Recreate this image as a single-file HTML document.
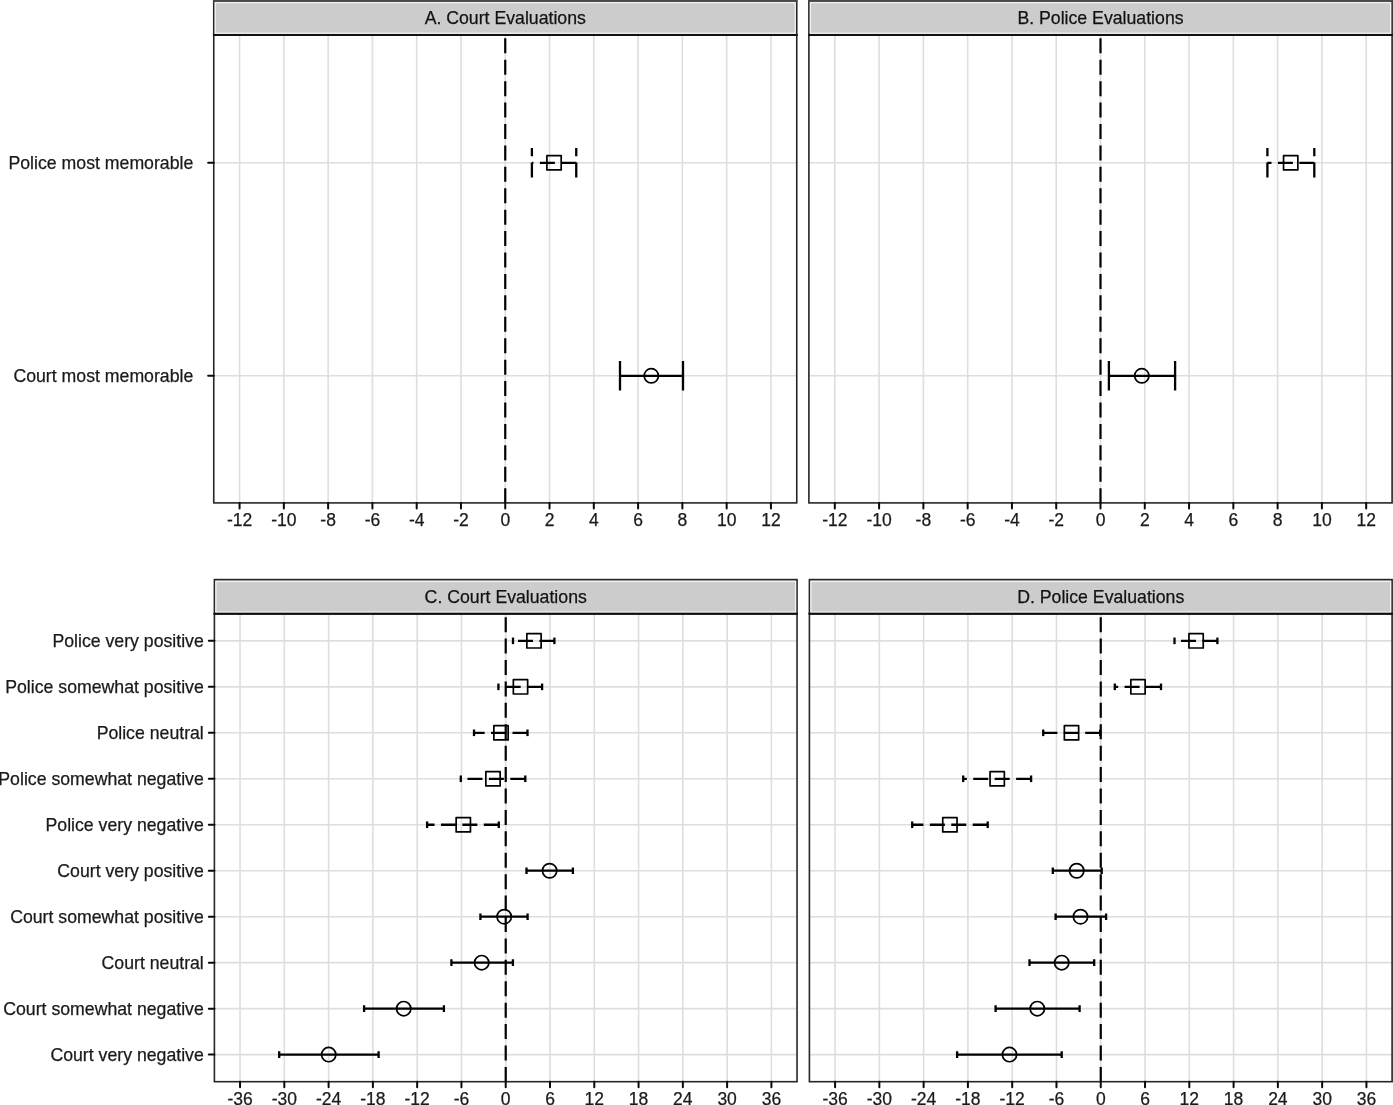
<!DOCTYPE html><html><head><meta charset="utf-8"><title>Figure</title><style>html,body{margin:0;padding:0;background:#fff;}svg{display:block;will-change:transform;}text{font-family:"Liberation Sans", sans-serif;font-size:17.5px;fill:#1a1a1a;stroke:#1a1a1a;stroke-width:0.25px;}</style></head><body>
<svg width="1393" height="1105" viewBox="0 0 1393 1105">
<rect x="0" y="0" width="1393" height="1105" fill="#fff"/>
<g stroke="#DEDEDE" stroke-width="1.6" fill="none">
<line x1="239.57" y1="34.9" x2="239.57" y2="502.9"/>
<line x1="283.85" y1="34.9" x2="283.85" y2="502.9"/>
<line x1="328.13" y1="34.9" x2="328.13" y2="502.9"/>
<line x1="372.41" y1="34.9" x2="372.41" y2="502.9"/>
<line x1="416.69" y1="34.9" x2="416.69" y2="502.9"/>
<line x1="460.97" y1="34.9" x2="460.97" y2="502.9"/>
<line x1="505.25" y1="34.9" x2="505.25" y2="502.9"/>
<line x1="549.53" y1="34.9" x2="549.53" y2="502.9"/>
<line x1="593.81" y1="34.9" x2="593.81" y2="502.9"/>
<line x1="638.09" y1="34.9" x2="638.09" y2="502.9"/>
<line x1="682.37" y1="34.9" x2="682.37" y2="502.9"/>
<line x1="726.65" y1="34.9" x2="726.65" y2="502.9"/>
<line x1="770.93" y1="34.9" x2="770.93" y2="502.9"/>
<line x1="213.75" y1="162.8" x2="796.75" y2="162.8"/>
<line x1="213.75" y1="375.8" x2="796.75" y2="375.8"/>
</g>
<path d="M505.25 503.15V35.7" stroke="#000" stroke-width="2.2" stroke-dasharray="15 6.42" fill="none"/>
<path d="M576.25 177.6V148" stroke="#000" stroke-width="2.3" fill="none" stroke-dasharray="15 6.42"/>
<path d="M576.25 162.8H531.9" stroke="#000" stroke-width="2.3" fill="none" stroke-dasharray="15 6.42"/>
<path d="M531.9 177.6V148" stroke="#000" stroke-width="2.3" fill="none" stroke-dasharray="15 6.42"/>
<rect x="546.9" y="155.65" width="14.3" height="14.3" fill="none" stroke="#000" stroke-width="1.7" stroke-linejoin="round"/>
<path d="M683 390.6V361M683 375.8H620M620 390.6V361" stroke="#000" stroke-width="2.3" fill="none"/>
<circle cx="651.3" cy="375.8" r="7.15" fill="none" stroke="#000" stroke-width="1.7"/>
<rect x="213.75" y="34.9" width="583" height="468" fill="none" stroke="#262626" stroke-width="1.6"/>
<rect x="213.75" y="0.8" width="583" height="34.1" fill="#CCCCCC" stroke="#262626" stroke-width="1.6"/>
<rect x="215.25" y="2.7" width="580" height="30.5" fill="none" stroke="#F2F2F2" stroke-width="1.2"/>
<line x1="212.95" y1="34.9" x2="797.55" y2="34.9" stroke="#111" stroke-width="2"/>
<line x1="212.95" y1="0.85" x2="797.55" y2="0.85" stroke="#484848" stroke-width="1.7"/>
<text x="505.25" y="24.4" text-anchor="middle" style="font-size:17.7px;fill:#111">A. Court Evaluations</text>
<g stroke="#0a0a0a" stroke-width="2.0" stroke-linecap="round">
<line x1="239.57" y1="502.9" x2="239.57" y2="508.5"/>
<line x1="283.85" y1="502.9" x2="283.85" y2="508.5"/>
<line x1="328.13" y1="502.9" x2="328.13" y2="508.5"/>
<line x1="372.41" y1="502.9" x2="372.41" y2="508.5"/>
<line x1="416.69" y1="502.9" x2="416.69" y2="508.5"/>
<line x1="460.97" y1="502.9" x2="460.97" y2="508.5"/>
<line x1="505.25" y1="502.9" x2="505.25" y2="508.5"/>
<line x1="549.53" y1="502.9" x2="549.53" y2="508.5"/>
<line x1="593.81" y1="502.9" x2="593.81" y2="508.5"/>
<line x1="638.09" y1="502.9" x2="638.09" y2="508.5"/>
<line x1="682.37" y1="502.9" x2="682.37" y2="508.5"/>
<line x1="726.65" y1="502.9" x2="726.65" y2="508.5"/>
<line x1="770.93" y1="502.9" x2="770.93" y2="508.5"/>
</g>
<text x="239.57" y="526.4" text-anchor="middle">-12</text>
<text x="283.85" y="526.4" text-anchor="middle">-10</text>
<text x="328.13" y="526.4" text-anchor="middle">-8</text>
<text x="372.41" y="526.4" text-anchor="middle">-6</text>
<text x="416.69" y="526.4" text-anchor="middle">-4</text>
<text x="460.97" y="526.4" text-anchor="middle">-2</text>
<text x="505.25" y="526.4" text-anchor="middle">0</text>
<text x="549.53" y="526.4" text-anchor="middle">2</text>
<text x="593.81" y="526.4" text-anchor="middle">4</text>
<text x="638.09" y="526.4" text-anchor="middle">6</text>
<text x="682.37" y="526.4" text-anchor="middle">8</text>
<text x="726.65" y="526.4" text-anchor="middle">10</text>
<text x="770.93" y="526.4" text-anchor="middle">12</text>
<g stroke="#0a0a0a" stroke-width="2.0" stroke-linecap="round">
<line x1="208.15" y1="162.8" x2="213.75" y2="162.8"/>
<line x1="208.15" y1="375.8" x2="213.75" y2="375.8"/>
</g>
<text x="193.3" y="169.4" text-anchor="end" style="font-size:17.7px">Police most memorable</text>
<text x="193.3" y="382.4" text-anchor="end" style="font-size:17.7px">Court most memorable</text>
<g stroke="#DEDEDE" stroke-width="1.6" fill="none">
<line x1="834.82" y1="34.9" x2="834.82" y2="502.9"/>
<line x1="879.1" y1="34.9" x2="879.1" y2="502.9"/>
<line x1="923.38" y1="34.9" x2="923.38" y2="502.9"/>
<line x1="967.66" y1="34.9" x2="967.66" y2="502.9"/>
<line x1="1011.94" y1="34.9" x2="1011.94" y2="502.9"/>
<line x1="1056.22" y1="34.9" x2="1056.22" y2="502.9"/>
<line x1="1100.5" y1="34.9" x2="1100.5" y2="502.9"/>
<line x1="1144.78" y1="34.9" x2="1144.78" y2="502.9"/>
<line x1="1189.06" y1="34.9" x2="1189.06" y2="502.9"/>
<line x1="1233.34" y1="34.9" x2="1233.34" y2="502.9"/>
<line x1="1277.62" y1="34.9" x2="1277.62" y2="502.9"/>
<line x1="1321.9" y1="34.9" x2="1321.9" y2="502.9"/>
<line x1="1366.18" y1="34.9" x2="1366.18" y2="502.9"/>
<line x1="808.9" y1="162.8" x2="1392.1" y2="162.8"/>
<line x1="808.9" y1="375.8" x2="1392.1" y2="375.8"/>
</g>
<path d="M1100.5 503.15V35.7" stroke="#000" stroke-width="2.2" stroke-dasharray="15 6.42" fill="none"/>
<path d="M1314.3 177.6V148" stroke="#000" stroke-width="2.3" fill="none" stroke-dasharray="15 6.42"/>
<path d="M1314.3 162.8H1267.4" stroke="#000" stroke-width="2.3" fill="none" stroke-dasharray="15 6.42"/>
<path d="M1267.4 177.6V148" stroke="#000" stroke-width="2.3" fill="none" stroke-dasharray="15 6.42"/>
<rect x="1283.55" y="155.65" width="14.3" height="14.3" fill="none" stroke="#000" stroke-width="1.7" stroke-linejoin="round"/>
<path d="M1175.1 390.6V361M1175.1 375.8H1108.9M1108.9 390.6V361" stroke="#000" stroke-width="2.3" fill="none"/>
<circle cx="1141.8" cy="375.8" r="7.15" fill="none" stroke="#000" stroke-width="1.7"/>
<rect x="808.9" y="34.9" width="583.2" height="468" fill="none" stroke="#262626" stroke-width="1.6"/>
<rect x="808.9" y="0.8" width="583.2" height="34.1" fill="#CCCCCC" stroke="#262626" stroke-width="1.6"/>
<rect x="810.4" y="2.7" width="580.2" height="30.5" fill="none" stroke="#F2F2F2" stroke-width="1.2"/>
<line x1="808.1" y1="34.9" x2="1392.9" y2="34.9" stroke="#111" stroke-width="2"/>
<line x1="808.1" y1="0.85" x2="1392.9" y2="0.85" stroke="#484848" stroke-width="1.7"/>
<text x="1100.5" y="24.4" text-anchor="middle" style="font-size:17.7px;fill:#111">B. Police Evaluations</text>
<g stroke="#0a0a0a" stroke-width="2.0" stroke-linecap="round">
<line x1="834.82" y1="502.9" x2="834.82" y2="508.5"/>
<line x1="879.1" y1="502.9" x2="879.1" y2="508.5"/>
<line x1="923.38" y1="502.9" x2="923.38" y2="508.5"/>
<line x1="967.66" y1="502.9" x2="967.66" y2="508.5"/>
<line x1="1011.94" y1="502.9" x2="1011.94" y2="508.5"/>
<line x1="1056.22" y1="502.9" x2="1056.22" y2="508.5"/>
<line x1="1100.5" y1="502.9" x2="1100.5" y2="508.5"/>
<line x1="1144.78" y1="502.9" x2="1144.78" y2="508.5"/>
<line x1="1189.06" y1="502.9" x2="1189.06" y2="508.5"/>
<line x1="1233.34" y1="502.9" x2="1233.34" y2="508.5"/>
<line x1="1277.62" y1="502.9" x2="1277.62" y2="508.5"/>
<line x1="1321.9" y1="502.9" x2="1321.9" y2="508.5"/>
<line x1="1366.18" y1="502.9" x2="1366.18" y2="508.5"/>
</g>
<text x="834.82" y="526.4" text-anchor="middle">-12</text>
<text x="879.1" y="526.4" text-anchor="middle">-10</text>
<text x="923.38" y="526.4" text-anchor="middle">-8</text>
<text x="967.66" y="526.4" text-anchor="middle">-6</text>
<text x="1011.94" y="526.4" text-anchor="middle">-4</text>
<text x="1056.22" y="526.4" text-anchor="middle">-2</text>
<text x="1100.5" y="526.4" text-anchor="middle">0</text>
<text x="1144.78" y="526.4" text-anchor="middle">2</text>
<text x="1189.06" y="526.4" text-anchor="middle">4</text>
<text x="1233.34" y="526.4" text-anchor="middle">6</text>
<text x="1277.62" y="526.4" text-anchor="middle">8</text>
<text x="1321.9" y="526.4" text-anchor="middle">10</text>
<text x="1366.18" y="526.4" text-anchor="middle">12</text>
<g stroke="#DEDEDE" stroke-width="1.6" fill="none">
<line x1="240.04" y1="613.7" x2="240.04" y2="1081.7"/>
<line x1="284.32" y1="613.7" x2="284.32" y2="1081.7"/>
<line x1="328.6" y1="613.7" x2="328.6" y2="1081.7"/>
<line x1="372.88" y1="613.7" x2="372.88" y2="1081.7"/>
<line x1="417.16" y1="613.7" x2="417.16" y2="1081.7"/>
<line x1="461.44" y1="613.7" x2="461.44" y2="1081.7"/>
<line x1="505.72" y1="613.7" x2="505.72" y2="1081.7"/>
<line x1="550" y1="613.7" x2="550" y2="1081.7"/>
<line x1="594.28" y1="613.7" x2="594.28" y2="1081.7"/>
<line x1="638.56" y1="613.7" x2="638.56" y2="1081.7"/>
<line x1="682.85" y1="613.7" x2="682.85" y2="1081.7"/>
<line x1="727.12" y1="613.7" x2="727.12" y2="1081.7"/>
<line x1="771.4" y1="613.7" x2="771.4" y2="1081.7"/>
<line x1="214.4" y1="1054.6" x2="797.05" y2="1054.6"/>
<line x1="214.4" y1="1008.63" x2="797.05" y2="1008.63"/>
<line x1="214.4" y1="962.66" x2="797.05" y2="962.66"/>
<line x1="214.4" y1="916.69" x2="797.05" y2="916.69"/>
<line x1="214.4" y1="870.72" x2="797.05" y2="870.72"/>
<line x1="214.4" y1="824.75" x2="797.05" y2="824.75"/>
<line x1="214.4" y1="778.78" x2="797.05" y2="778.78"/>
<line x1="214.4" y1="732.81" x2="797.05" y2="732.81"/>
<line x1="214.4" y1="686.84" x2="797.05" y2="686.84"/>
<line x1="214.4" y1="640.87" x2="797.05" y2="640.87"/>
</g>
<path d="M505.72 1081.95V614.5" stroke="#000" stroke-width="2.2" stroke-dasharray="15 6.42" fill="none"/>
<path d="M554.4 644.17V637.57" stroke="#000" stroke-width="2.3" fill="none" stroke-dasharray="15 6.42"/>
<path d="M554.4 640.87H513" stroke="#000" stroke-width="2.3" fill="none" stroke-dasharray="15 6.42"/>
<path d="M513 644.17V637.57" stroke="#000" stroke-width="2.3" fill="none" stroke-dasharray="15 6.42"/>
<rect x="526.85" y="633.72" width="14.3" height="14.3" fill="none" stroke="#000" stroke-width="1.7" stroke-linejoin="round"/>
<path d="M542.1 690.14V683.54" stroke="#000" stroke-width="2.3" fill="none" stroke-dasharray="15 6.42"/>
<path d="M542.1 686.84H498.4" stroke="#000" stroke-width="2.3" fill="none" stroke-dasharray="15 6.42"/>
<path d="M498.4 690.14V683.54" stroke="#000" stroke-width="2.3" fill="none" stroke-dasharray="15 6.42"/>
<rect x="513.35" y="679.69" width="14.3" height="14.3" fill="none" stroke="#000" stroke-width="1.7" stroke-linejoin="round"/>
<path d="M527.5 736.11V729.51" stroke="#000" stroke-width="2.3" fill="none" stroke-dasharray="15 6.42"/>
<path d="M527.5 732.81H474" stroke="#000" stroke-width="2.3" fill="none" stroke-dasharray="15 6.42"/>
<path d="M474 736.11V729.51" stroke="#000" stroke-width="2.3" fill="none" stroke-dasharray="15 6.42"/>
<rect x="493.85" y="725.66" width="14.3" height="14.3" fill="none" stroke="#000" stroke-width="1.7" stroke-linejoin="round"/>
<path d="M525.3 782.08V775.48" stroke="#000" stroke-width="2.3" fill="none" stroke-dasharray="15 6.42"/>
<path d="M525.3 778.78H460.8" stroke="#000" stroke-width="2.3" fill="none" stroke-dasharray="15 6.42"/>
<path d="M460.8 782.08V775.48" stroke="#000" stroke-width="2.3" fill="none" stroke-dasharray="15 6.42"/>
<rect x="485.85" y="771.63" width="14.3" height="14.3" fill="none" stroke="#000" stroke-width="1.7" stroke-linejoin="round"/>
<path d="M498.8 828.05V821.45" stroke="#000" stroke-width="2.3" fill="none" stroke-dasharray="15 6.42"/>
<path d="M498.8 824.75H427.1" stroke="#000" stroke-width="2.3" fill="none" stroke-dasharray="15 6.42"/>
<path d="M427.1 828.05V821.45" stroke="#000" stroke-width="2.3" fill="none" stroke-dasharray="15 6.42"/>
<rect x="456.15" y="817.6" width="14.3" height="14.3" fill="none" stroke="#000" stroke-width="1.7" stroke-linejoin="round"/>
<path d="M572.9 874.02V867.42M572.9 870.72H526.5M526.5 874.02V867.42" stroke="#000" stroke-width="2.3" fill="none"/>
<circle cx="549.6" cy="870.72" r="7.15" fill="none" stroke="#000" stroke-width="1.7"/>
<path d="M527.6 919.99V913.39M527.6 916.69H480.4M480.4 919.99V913.39" stroke="#000" stroke-width="2.3" fill="none"/>
<circle cx="504.2" cy="916.69" r="7.15" fill="none" stroke="#000" stroke-width="1.7"/>
<path d="M512.9 965.96V959.36M512.9 962.66H451.4M451.4 965.96V959.36" stroke="#000" stroke-width="2.3" fill="none"/>
<circle cx="481.7" cy="962.66" r="7.15" fill="none" stroke="#000" stroke-width="1.7"/>
<path d="M443.9 1011.93V1005.33M443.9 1008.63H364.1M364.1 1011.93V1005.33" stroke="#000" stroke-width="2.3" fill="none"/>
<circle cx="403.7" cy="1008.63" r="7.15" fill="none" stroke="#000" stroke-width="1.7"/>
<path d="M378.6 1057.9V1051.3M378.6 1054.6H279.2M279.2 1057.9V1051.3" stroke="#000" stroke-width="2.3" fill="none"/>
<circle cx="328.7" cy="1054.6" r="7.15" fill="none" stroke="#000" stroke-width="1.7"/>
<rect x="214.4" y="613.7" width="582.65" height="468" fill="none" stroke="#262626" stroke-width="1.6"/>
<rect x="214.4" y="579.6" width="582.65" height="34.1" fill="#CCCCCC" stroke="#262626" stroke-width="1.6"/>
<rect x="215.9" y="581.5" width="579.65" height="30.5" fill="none" stroke="#F2F2F2" stroke-width="1.2"/>
<line x1="213.6" y1="613.7" x2="797.85" y2="613.7" stroke="#111" stroke-width="2"/>
<text x="505.72" y="603.2" text-anchor="middle" style="font-size:17.7px;fill:#111">C. Court Evaluations</text>
<g stroke="#0a0a0a" stroke-width="2.0" stroke-linecap="round">
<line x1="240.04" y1="1081.7" x2="240.04" y2="1087.3"/>
<line x1="284.32" y1="1081.7" x2="284.32" y2="1087.3"/>
<line x1="328.6" y1="1081.7" x2="328.6" y2="1087.3"/>
<line x1="372.88" y1="1081.7" x2="372.88" y2="1087.3"/>
<line x1="417.16" y1="1081.7" x2="417.16" y2="1087.3"/>
<line x1="461.44" y1="1081.7" x2="461.44" y2="1087.3"/>
<line x1="505.72" y1="1081.7" x2="505.72" y2="1087.3"/>
<line x1="550" y1="1081.7" x2="550" y2="1087.3"/>
<line x1="594.28" y1="1081.7" x2="594.28" y2="1087.3"/>
<line x1="638.56" y1="1081.7" x2="638.56" y2="1087.3"/>
<line x1="682.85" y1="1081.7" x2="682.85" y2="1087.3"/>
<line x1="727.12" y1="1081.7" x2="727.12" y2="1087.3"/>
<line x1="771.4" y1="1081.7" x2="771.4" y2="1087.3"/>
</g>
<text x="240.04" y="1105" text-anchor="middle">-36</text>
<text x="284.32" y="1105" text-anchor="middle">-30</text>
<text x="328.6" y="1105" text-anchor="middle">-24</text>
<text x="372.88" y="1105" text-anchor="middle">-18</text>
<text x="417.16" y="1105" text-anchor="middle">-12</text>
<text x="461.44" y="1105" text-anchor="middle">-6</text>
<text x="505.72" y="1105" text-anchor="middle">0</text>
<text x="550" y="1105" text-anchor="middle">6</text>
<text x="594.28" y="1105" text-anchor="middle">12</text>
<text x="638.56" y="1105" text-anchor="middle">18</text>
<text x="682.85" y="1105" text-anchor="middle">24</text>
<text x="727.12" y="1105" text-anchor="middle">30</text>
<text x="771.4" y="1105" text-anchor="middle">36</text>
<g stroke="#0a0a0a" stroke-width="2.0" stroke-linecap="round">
<line x1="208.8" y1="1054.6" x2="214.4" y2="1054.6"/>
<line x1="208.8" y1="1008.63" x2="214.4" y2="1008.63"/>
<line x1="208.8" y1="962.66" x2="214.4" y2="962.66"/>
<line x1="208.8" y1="916.69" x2="214.4" y2="916.69"/>
<line x1="208.8" y1="870.72" x2="214.4" y2="870.72"/>
<line x1="208.8" y1="824.75" x2="214.4" y2="824.75"/>
<line x1="208.8" y1="778.78" x2="214.4" y2="778.78"/>
<line x1="208.8" y1="732.81" x2="214.4" y2="732.81"/>
<line x1="208.8" y1="686.84" x2="214.4" y2="686.84"/>
<line x1="208.8" y1="640.87" x2="214.4" y2="640.87"/>
</g>
<text x="203.8" y="1061.2" text-anchor="end" style="font-size:17.7px">Court very negative</text>
<text x="203.8" y="1015.23" text-anchor="end" style="font-size:17.7px">Court somewhat negative</text>
<text x="203.8" y="969.26" text-anchor="end" style="font-size:17.7px">Court neutral</text>
<text x="203.8" y="923.29" text-anchor="end" style="font-size:17.7px">Court somewhat positive</text>
<text x="203.8" y="877.32" text-anchor="end" style="font-size:17.7px">Court very positive</text>
<text x="203.8" y="831.35" text-anchor="end" style="font-size:17.7px">Police very negative</text>
<text x="203.8" y="785.38" text-anchor="end" style="font-size:17.7px">Police somewhat negative</text>
<text x="203.8" y="739.41" text-anchor="end" style="font-size:17.7px">Police neutral</text>
<text x="203.8" y="693.44" text-anchor="end" style="font-size:17.7px">Police somewhat positive</text>
<text x="203.8" y="647.47" text-anchor="end" style="font-size:17.7px">Police very positive</text>
<g stroke="#DEDEDE" stroke-width="1.6" fill="none">
<line x1="835.07" y1="613.7" x2="835.07" y2="1081.7"/>
<line x1="879.35" y1="613.7" x2="879.35" y2="1081.7"/>
<line x1="923.63" y1="613.7" x2="923.63" y2="1081.7"/>
<line x1="967.91" y1="613.7" x2="967.91" y2="1081.7"/>
<line x1="1012.19" y1="613.7" x2="1012.19" y2="1081.7"/>
<line x1="1056.47" y1="613.7" x2="1056.47" y2="1081.7"/>
<line x1="1100.75" y1="613.7" x2="1100.75" y2="1081.7"/>
<line x1="1145.03" y1="613.7" x2="1145.03" y2="1081.7"/>
<line x1="1189.31" y1="613.7" x2="1189.31" y2="1081.7"/>
<line x1="1233.59" y1="613.7" x2="1233.59" y2="1081.7"/>
<line x1="1277.87" y1="613.7" x2="1277.87" y2="1081.7"/>
<line x1="1322.15" y1="613.7" x2="1322.15" y2="1081.7"/>
<line x1="1366.43" y1="613.7" x2="1366.43" y2="1081.7"/>
<line x1="809.4" y1="1054.6" x2="1392.1" y2="1054.6"/>
<line x1="809.4" y1="1008.63" x2="1392.1" y2="1008.63"/>
<line x1="809.4" y1="962.66" x2="1392.1" y2="962.66"/>
<line x1="809.4" y1="916.69" x2="1392.1" y2="916.69"/>
<line x1="809.4" y1="870.72" x2="1392.1" y2="870.72"/>
<line x1="809.4" y1="824.75" x2="1392.1" y2="824.75"/>
<line x1="809.4" y1="778.78" x2="1392.1" y2="778.78"/>
<line x1="809.4" y1="732.81" x2="1392.1" y2="732.81"/>
<line x1="809.4" y1="686.84" x2="1392.1" y2="686.84"/>
<line x1="809.4" y1="640.87" x2="1392.1" y2="640.87"/>
</g>
<path d="M1100.75 1081.95V614.5" stroke="#000" stroke-width="2.2" stroke-dasharray="15 6.42" fill="none"/>
<path d="M1217.4 644.17V637.57" stroke="#000" stroke-width="2.3" fill="none" stroke-dasharray="15 6.42"/>
<path d="M1217.4 640.87H1174.5" stroke="#000" stroke-width="2.3" fill="none" stroke-dasharray="15 6.42"/>
<path d="M1174.5 644.17V637.57" stroke="#000" stroke-width="2.3" fill="none" stroke-dasharray="15 6.42"/>
<rect x="1188.95" y="633.72" width="14.3" height="14.3" fill="none" stroke="#000" stroke-width="1.7" stroke-linejoin="round"/>
<path d="M1161 690.14V683.54" stroke="#000" stroke-width="2.3" fill="none" stroke-dasharray="15 6.42"/>
<path d="M1161 686.84H1114.8" stroke="#000" stroke-width="2.3" fill="none" stroke-dasharray="15 6.42"/>
<path d="M1114.8 690.14V683.54" stroke="#000" stroke-width="2.3" fill="none" stroke-dasharray="15 6.42"/>
<rect x="1130.85" y="679.69" width="14.3" height="14.3" fill="none" stroke="#000" stroke-width="1.7" stroke-linejoin="round"/>
<path d="M1100.2 736.11V729.51" stroke="#000" stroke-width="2.3" fill="none" stroke-dasharray="15 6.42"/>
<path d="M1100.2 732.81H1043.2" stroke="#000" stroke-width="2.3" fill="none" stroke-dasharray="15 6.42"/>
<path d="M1043.2 736.11V729.51" stroke="#000" stroke-width="2.3" fill="none" stroke-dasharray="15 6.42"/>
<rect x="1064.35" y="725.66" width="14.3" height="14.3" fill="none" stroke="#000" stroke-width="1.7" stroke-linejoin="round"/>
<path d="M1031.1 782.08V775.48" stroke="#000" stroke-width="2.3" fill="none" stroke-dasharray="15 6.42"/>
<path d="M1031.1 778.78H963.2" stroke="#000" stroke-width="2.3" fill="none" stroke-dasharray="15 6.42"/>
<path d="M963.2 782.08V775.48" stroke="#000" stroke-width="2.3" fill="none" stroke-dasharray="15 6.42"/>
<rect x="990.05" y="771.63" width="14.3" height="14.3" fill="none" stroke="#000" stroke-width="1.7" stroke-linejoin="round"/>
<path d="M987.7 828.05V821.45" stroke="#000" stroke-width="2.3" fill="none" stroke-dasharray="15 6.42"/>
<path d="M987.7 824.75H912.2" stroke="#000" stroke-width="2.3" fill="none" stroke-dasharray="15 6.42"/>
<path d="M912.2 828.05V821.45" stroke="#000" stroke-width="2.3" fill="none" stroke-dasharray="15 6.42"/>
<rect x="942.75" y="817.6" width="14.3" height="14.3" fill="none" stroke="#000" stroke-width="1.7" stroke-linejoin="round"/>
<path d="M1101.7 874.02V867.42M1101.7 870.72H1052.8M1052.8 874.02V867.42" stroke="#000" stroke-width="2.3" fill="none"/>
<circle cx="1076.7" cy="870.72" r="7.15" fill="none" stroke="#000" stroke-width="1.7"/>
<path d="M1106.1 919.99V913.39M1106.1 916.69H1055.6M1055.6 919.99V913.39" stroke="#000" stroke-width="2.3" fill="none"/>
<circle cx="1080.5" cy="916.69" r="7.15" fill="none" stroke="#000" stroke-width="1.7"/>
<path d="M1094.2 965.96V959.36M1094.2 962.66H1029.5M1029.5 965.96V959.36" stroke="#000" stroke-width="2.3" fill="none"/>
<circle cx="1061.7" cy="962.66" r="7.15" fill="none" stroke="#000" stroke-width="1.7"/>
<path d="M1079.6 1011.93V1005.33M1079.6 1008.63H995.6M995.6 1011.93V1005.33" stroke="#000" stroke-width="2.3" fill="none"/>
<circle cx="1037.3" cy="1008.63" r="7.15" fill="none" stroke="#000" stroke-width="1.7"/>
<path d="M1061.7 1057.9V1051.3M1061.7 1054.6H957.1M957.1 1057.9V1051.3" stroke="#000" stroke-width="2.3" fill="none"/>
<circle cx="1009.5" cy="1054.6" r="7.15" fill="none" stroke="#000" stroke-width="1.7"/>
<rect x="809.4" y="613.7" width="582.7" height="468" fill="none" stroke="#262626" stroke-width="1.6"/>
<rect x="809.4" y="579.6" width="582.7" height="34.1" fill="#CCCCCC" stroke="#262626" stroke-width="1.6"/>
<rect x="810.9" y="581.5" width="579.7" height="30.5" fill="none" stroke="#F2F2F2" stroke-width="1.2"/>
<line x1="808.6" y1="613.7" x2="1392.9" y2="613.7" stroke="#111" stroke-width="2"/>
<text x="1100.75" y="603.2" text-anchor="middle" style="font-size:17.7px;fill:#111">D. Police Evaluations</text>
<g stroke="#0a0a0a" stroke-width="2.0" stroke-linecap="round">
<line x1="835.07" y1="1081.7" x2="835.07" y2="1087.3"/>
<line x1="879.35" y1="1081.7" x2="879.35" y2="1087.3"/>
<line x1="923.63" y1="1081.7" x2="923.63" y2="1087.3"/>
<line x1="967.91" y1="1081.7" x2="967.91" y2="1087.3"/>
<line x1="1012.19" y1="1081.7" x2="1012.19" y2="1087.3"/>
<line x1="1056.47" y1="1081.7" x2="1056.47" y2="1087.3"/>
<line x1="1100.75" y1="1081.7" x2="1100.75" y2="1087.3"/>
<line x1="1145.03" y1="1081.7" x2="1145.03" y2="1087.3"/>
<line x1="1189.31" y1="1081.7" x2="1189.31" y2="1087.3"/>
<line x1="1233.59" y1="1081.7" x2="1233.59" y2="1087.3"/>
<line x1="1277.87" y1="1081.7" x2="1277.87" y2="1087.3"/>
<line x1="1322.15" y1="1081.7" x2="1322.15" y2="1087.3"/>
<line x1="1366.43" y1="1081.7" x2="1366.43" y2="1087.3"/>
</g>
<text x="835.07" y="1105" text-anchor="middle">-36</text>
<text x="879.35" y="1105" text-anchor="middle">-30</text>
<text x="923.63" y="1105" text-anchor="middle">-24</text>
<text x="967.91" y="1105" text-anchor="middle">-18</text>
<text x="1012.19" y="1105" text-anchor="middle">-12</text>
<text x="1056.47" y="1105" text-anchor="middle">-6</text>
<text x="1100.75" y="1105" text-anchor="middle">0</text>
<text x="1145.03" y="1105" text-anchor="middle">6</text>
<text x="1189.31" y="1105" text-anchor="middle">12</text>
<text x="1233.59" y="1105" text-anchor="middle">18</text>
<text x="1277.87" y="1105" text-anchor="middle">24</text>
<text x="1322.15" y="1105" text-anchor="middle">30</text>
<text x="1366.43" y="1105" text-anchor="middle">36</text>
</svg></body></html>
